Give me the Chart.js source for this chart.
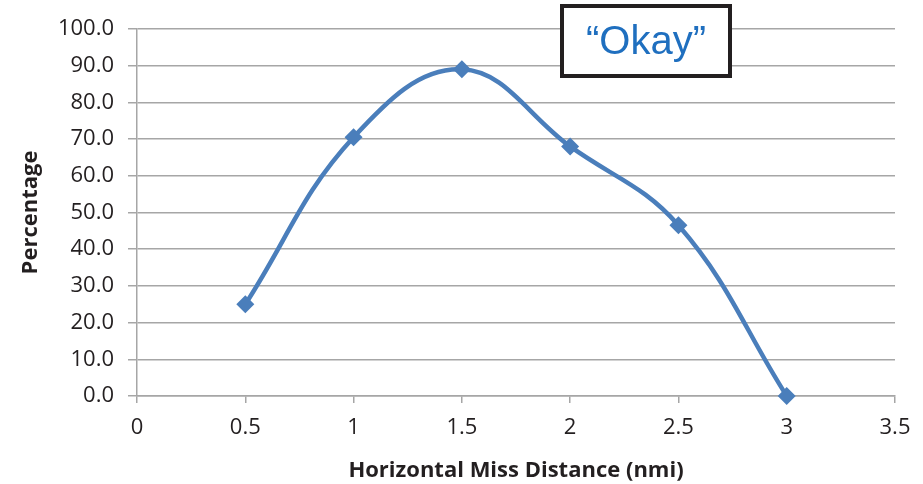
<!DOCTYPE html>
<html>
<head>
<meta charset="utf-8">
<script src="https://cdn.jsdelivr.net/npm/chart.js@4"></script>
<style>
  body { margin: 0; background: #fff; }
  #missChart { display: block; }
</style>
</head>
<body>
<canvas id="missChart" width="923" height="484"></canvas>
<script>
// miss distance (nmi) vs percentage rated "Okay"
const missDistance = [0.5, 1, 1.5, 2, 2.5, 3];
const percentage = [25.0, 70.5, 89.0, 68.0, 46.5, 0.0];
const boxLabel = '\u201COkay\u201D';

const lineBlue = '#4a7ebb';
const gridGray = '#a6a6a6';
const textDark = '#231f20';
const fontFam = '"Open Sans", sans-serif';

// framed label in the upper part of the chart
const labelBox = {
  id: 'labelBox',
  afterDraw(chart) {
    const c = chart.ctx;
    c.save();
    c.fillStyle = '#fff';
    c.fillRect(562, 6, 168, 70);
    c.lineWidth = 4;
    c.strokeStyle = textDark;
    c.strokeRect(562, 6, 168, 70);
    c.fillStyle = '#1f6fbf';
    c.font = '40px "Liberation Sans", Arial, sans-serif';
    c.textAlign = 'center';
    c.textBaseline = 'middle';
    c.fillText(boxLabel, 646, 43);
    c.restore();
  }
};

new Chart(document.getElementById('missChart'), {
  type: 'line',
  data: {
    datasets: [{
      data: missDistance.map((x, i) => ({ x: x, y: percentage[i] })),
      borderColor: lineBlue,
      backgroundColor: lineBlue,
      borderWidth: 4.5,
      tension: 0.4,
      pointStyle: 'rectRot',
      pointRadius: 9,
      pointHoverRadius: 9,
      pointBorderWidth: 0,
      clip: false
    }]
  },
  options: {
    responsive: false,
    animation: false,
    layout: { padding: { top: 29, right: 28, left: 18, bottom: 0 } },
    plugins: { legend: { display: false }, tooltip: { enabled: false } },
    scales: {
      x: {
        type: 'linear',
        min: 0,
        max: 3.5,
        ticks: {
          stepSize: 0.5,
          color: textDark,
          font: { family: fontFam, size: 22 },
          padding: 12,
          callback: v => String(v)
        },
        grid: { drawOnChartArea: false, tickLength: 7, color: gridGray, lineWidth: 1.5 },
        border: { color: gridGray, width: 1.5 },
        title: {
          display: true,
          text: 'Horizontal Miss Distance (nmi)',
          color: textDark,
          font: { family: fontFam, size: 22, weight: 'bold' },
          padding: { top: 2, bottom: 0 }
        },
        afterFit(s) { s.height = 88; }
      },
      y: {
        min: 0,
        max: 100,
        ticks: {
          stepSize: 10,
          color: textDark,
          font: { family: fontFam, size: 22 },
          padding: 14,
          callback: v => v.toFixed(1)
        },
        grid: { color: gridGray, lineWidth: 1.5, tickLength: 9 },
        border: { color: gridGray, width: 1.5 },
        title: {
          display: true,
          text: 'Percentage',
          color: textDark,
          font: { family: fontFam, size: 22, weight: 'bold' },
          padding: { top: 0, bottom: 6 }
        },
        afterFit(s) { s.width = 119; }
      }
    }
  },
  plugins: [labelBox]
});
</script>
</body>
</html>
